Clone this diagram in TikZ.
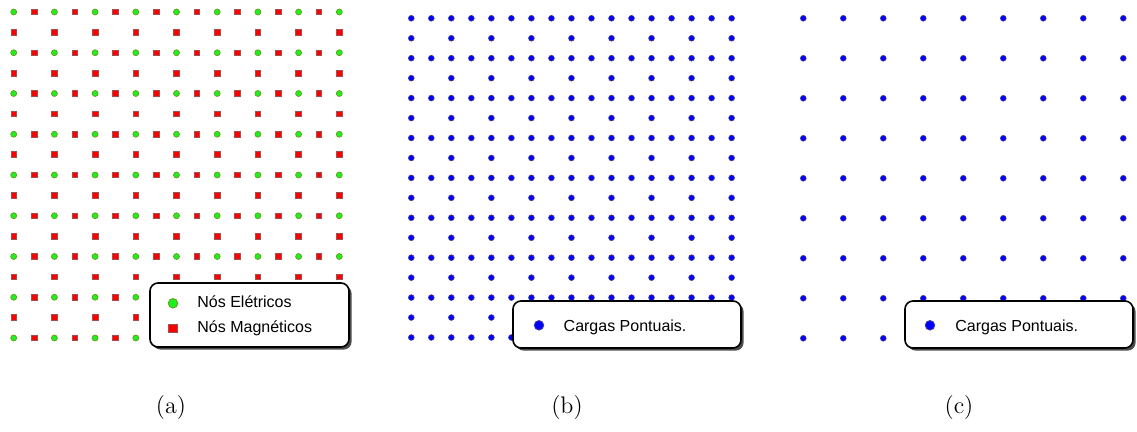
\documentclass[tikz,border=0pt]{standalone}
\usepackage{fontspec}
\setsansfont{Liberation Sans}
\usepackage{xcolor}
\usepackage{tikz}
\usetikzlibrary{shadows,positioning}
\definecolor{NoVerde}{HTML}{1EF01E}
\definecolor{NoVerdeBorda}{HTML}{6A9A20}
\definecolor{NoVermelho}{HTML}{FF0000}
\definecolor{NoVermelhoBorda}{HTML}{A05050}
\definecolor{CargaAzul}{HTML}{0000FF}
\definecolor{CargaBorda}{HTML}{4A3A9A}

\tikzset{
  eletrico/.style={circle, fill=NoVerde, draw=NoVerdeBorda, line width=0.35pt,
    minimum size=3pt, inner sep=0pt},
  magnetico/.style={rectangle, fill=NoVermelho, draw=NoVermelhoBorda, line width=0.35pt,
    minimum size=2.8pt, inner sep=0pt},
  carga/.style={circle, fill=CargaAzul, draw=CargaBorda, line width=0.3pt,
    minimum size=2.9pt, inner sep=0pt},
  legenda/.style={draw=black, line width=0.8pt, fill=white, rounded corners=4pt,
    inner sep=0pt,
    drop shadow={shadow xshift=1.3pt, shadow yshift=-1.3pt, fill=black, opacity=0.7}},
  rotulo/.style={font=\fontsize{8}{9.6}\selectfont\sffamily, anchor=base west, inner sep=0pt},
  legenda/marca/.style={minimum size=4.8pt, line width=0.4pt},
  subfig/.style={font=\fontsize{12}{14}\selectfont, anchor=base, inner sep=0pt}
}

\begin{document}
\begin{tikzpicture}[x=0.5pt, y=-0.5pt]
  \useasboundingbox (0,0) rectangle (1137,432);

  % (a) nos eletricos e magneticos
  \foreach \i in {0,2,...,16}
    \foreach \j in {0,2,...,16}
      \node[eletrico] (e-\i-\j) at (13.7+20.35*\i, 12+20.375*\j) {};
  \foreach \i in {1,3,...,15}
    \foreach \j in {0,2,...,16}
      \node[magnetico] (m-\i-\j) at (13.7+20.35*\i, 12+20.375*\j) {};
  \foreach \i in {0,2,...,16}
    \foreach \j in {1,3,...,15}
      \node[magnetico] (m-\i-\j) at (13.7+20.35*\i, 12+20.375*\j) {};

  \node[legenda, minimum width=99.5pt, minimum height=32pt] (legA) at (249.5,315) {};
  \node[eletrico, legenda/marca] (marcaE) at (173,303.3) {};
  \node[magnetico, minimum size=4.3pt, line width=0.4pt] (marcaM) at (173,328.3) {};
  \node[rotulo] (txtE) at (197,307.7) {Nós Elétricos};
  \node[rotulo] (txtM) at (197,332.7) {Nós Magnéticos};
  \node[subfig] (capA) at (171,413.5) {(a)};

  % (b) cargas pontuais, malha fina
  \foreach \i in {0,...,16}
    \foreach \j in {0,2,...,16}
      \node[carga] (b-\i-\j) at (411.3+20.02*\i, 18.3+19.95*\j) {};
  \foreach \i in {0,2,...,16}
    \foreach \j in {1,3,...,15}
      \node[carga] (b-\i-\j) at (411.3+20.02*\i, 18.3+19.95*\j) {};

  \node[legenda, minimum width=114pt, minimum height=23.5pt] (legB) at (627,324.5) {};
  \node[carga, legenda/marca] (marcaB) at (539,325.3) {};
  \node[rotulo] (txtB) at (563.3,331.5) {Cargas Pontuais.};
  \node[subfig] (capB) at (567,413.5) {(b)};

  % (c) cargas pontuais, malha grossa
  \foreach \i in {0,...,8}
    \foreach \j in {0,...,8}
      \node[carga] (c-\i-\j) at (803.3+40*\i, 18.3+40*\j) {};

  \node[legenda, minimum width=114pt, minimum height=23.5pt] (legC) at (1019,324.5) {};
  \node[carga, legenda/marca] (marcaC) at (930,325.3) {};
  \node[rotulo] (txtC) at (955,332) {Cargas Pontuais.};
  \node[subfig] (capC) at (959,413.5) {(c)};
\end{tikzpicture}
\end{document}
